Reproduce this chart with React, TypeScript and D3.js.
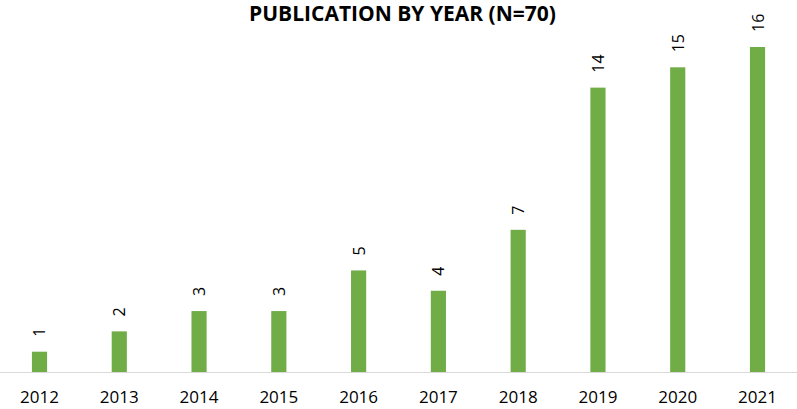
import React from "react";
import * as d3 from "d3";

const years = ["2012", "2013", "2014", "2015", "2016", "2017", "2018", "2019", "2020", "2021"];
const counts = [1, 2, 3, 3, 5, 4, 7, 14, 15, 16];
const title = "PUBLICATION BY YEAR (N=70)";

const W = 797;
const H = 409;
const axisY = 372;

export default function App() {
  const x = d3.scaleBand<string>().domain(years).range([0, W]).paddingInner(0.81).paddingOuter(0.4);
  const y = d3.scaleLinear().domain([0, 16]).range([axisY, 47]);
  const font = "'Open Sans', 'Liberation Sans', sans-serif";
  return (
    <svg width={W} height={H} style={{ position: "absolute", left: 0, top: 0, background: "#fff" }}>
      <text x={W / 2 + 4} y={20.5} textAnchor="middle" fontFamily={font} fontWeight="bold" fontSize={21} fill="#000">
        {title}
      </text>
      {years.map((yr, i) => {
        const bx = x(yr)!;
        const bw = x.bandwidth();
        const top = y(counts[i]);
        return (
          <g key={yr}>
            <rect x={bx} y={top} width={bw} height={axisY - top} fill="#70AD47" />
            <text
              transform={`translate(${bx + bw / 2 + 6},${top - 15}) rotate(-90)`}
              fontFamily={font}
              fontSize={16}
              fill="#000"
            >
              {counts[i]}
            </text>
            <text x={bx + bw / 2} y={403} textAnchor="middle" fontFamily={font} fontSize={17} fill="#000">
              {yr}
            </text>
          </g>
        );
      })}
      <line x1={0} x2={W} y1={axisY + 0.5} y2={axisY + 0.5} stroke="#d9d9d9" strokeWidth={1} />
    </svg>
  );
}
